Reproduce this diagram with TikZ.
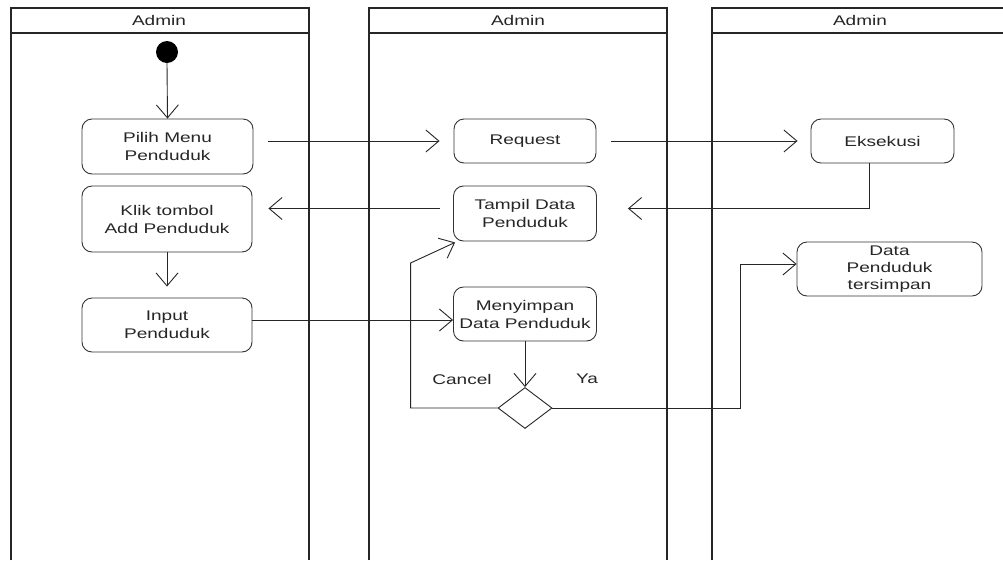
\documentclass[tikz,border=0pt]{standalone}
\usepackage{fontspec}
\setmainfont{Liberation Sans}[FakeStretch=1.36]
\usetikzlibrary{arrows.meta,calc,shapes.geometric}
\begin{document}
\begin{tikzpicture}[x=1pt,y=-1pt,
  font=\fontsize{14}{18}\selectfont,
  lane/.style={draw=black!85,line width=1.1pt},
  act/.style={draw=black!80,line width=0.9pt,rounded corners=10pt,align=center,inner sep=1pt,text=black!85},
  arr/.style={draw=black!85,line width=0.9pt,-{Straight Barb[length=13pt,width=22pt,line width=0.9pt]}},
  ln/.style={draw=black!85,line width=0.9pt},
  lbl/.style={text=black!85,inner sep=0pt}]
\useasboundingbox (0,0) rectangle (1003,560);
\fill[white] (0,0) rectangle (1003,560);
% swimlanes
\draw[lane] (11,560) -- (11,8) -- (309,8) -- (309,560);
\draw[lane] (11,33) -- (309,33);
\draw[lane] (369,560) -- (369,8) -- (667,8) -- (667,560);
\draw[lane] (369,33) -- (667,33);
\draw[lane] (712,560) -- (712,8) -- (1003,8);
\draw[lane] (712,33) -- (1003,33);
\node[lbl] (h1) at (159,20.5) {Admin};
\node[lbl] (h2) at (518,20.5) {Admin};
\node[lbl] (h3) at (860,20.5) {Admin};
% nodes
\node[circle,fill=black,minimum size=22pt,inner sep=0pt] (start) at (167,52) {};
\node[act,minimum width=171pt,minimum height=55pt] (pilih) at (167.5,146.5) {Pilih Menu\\Penduduk};
\node[act,minimum width=170pt,minimum height=66pt] (klik) at (167,219) {Klik tombol\\Add Penduduk};
\node[act,minimum width=170pt,minimum height=54pt] (input) at (167,325) {Input\\Penduduk};
\node[act,minimum width=142pt,minimum height=44pt] (req) at (525,141) {Request};
\node[act,minimum width=143pt,minimum height=55pt] (tampil) at (525,213.5) {Tampil Data\\Penduduk};
\node[act,minimum width=143pt,minimum height=54pt,inner sep=0pt] (simpan) at (525,314) {Menyimpan\\Data Penduduk};
\node[diamond,draw=black!85,line width=0.9pt,minimum width=54pt,minimum height=41pt,inner sep=0pt] (dec) at (525,408) {};
\node[act,minimum width=143pt,minimum height=44pt] (eks) at (882.5,141) {Eksekusi};
\node[act,minimum width=185pt,minimum height=54pt,inner sep=0pt,font=\fontsize{14}{17}\selectfont] (data) at (889.5,269) {Data\\Penduduk\\tersimpan};
\node[lbl] (cancel) at (462,379) {Cancel};
\node[lbl] (ya) at (587,379) {Ya};
% connectors
\draw[arr] (start.south) -- (pilih.north);
\draw[arr] ($(pilih.east |- req.west)+(15,0)$) -- ($(req.west)+(-14,0)$);
\draw[arr] ($(req.east)+(15,0)$) -- ($(eks.west)+(-13,0)$);
\draw[arr] ($(eks.south)+(-13,0)$) |- ($(tampil.east)+(31,-5)$);
\draw[arr] ($(tampil.west)+(-13,-5)$) -- ($(klik.east |- tampil.west)+(16,-5)$);
\draw[arr] (klik.south) -- ($(input.north)+(0,-11)$);
\coordinate (i1) at ($(input.east)+(0,-5)$);
\draw[arr] (i1) -- (i1 -| simpan.west);
\draw[arr] (simpan.south) -- (dec.north);
\draw[arr] (dec.west) -- ++(-87,0) -- ++(0,-145) -- ($(tampil.south west)+(2,1)$);
\draw[arr] (dec.east) -- ++(188,0) |- ($(data.west)+(0,-5)$);
\end{tikzpicture}
\end{document}
